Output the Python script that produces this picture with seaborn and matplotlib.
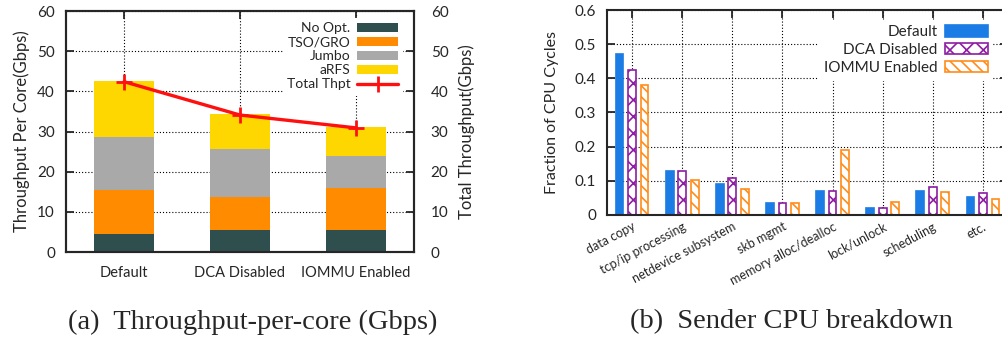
import matplotlib
matplotlib.use("Agg")
import matplotlib.pyplot as plt
from matplotlib.patches import Patch
from matplotlib.lines import Line2D
import numpy as np
import pandas as pd
import seaborn as sns

# ---- Throughput per core, stacked by optimisation ----
configs = ["Default", "DCA Disabled", "IOMMU Enabled"]
no_opt = [4.4, 5.6, 5.6]
tso_gro = [11.1, 8.0, 10.4]
jumbo = [13.1, 12.0, 8.0]
arfs = [13.9, 8.7, 7.1]
total_thpt = [42.4, 34.1, 30.9]

# ---- Sender CPU breakdown ----
categories = ["data copy", "tcp/ip processing", "netdevice subsystem", "skb mgmt",
              "memory alloc/dealloc", "lock/unlock", "scheduling", "etc."]
cpu_default = [0.470, 0.130, 0.090, 0.036, 0.071, 0.021, 0.071, 0.054]
cpu_dca_disabled = [0.424, 0.129, 0.108, 0.034, 0.069, 0.020, 0.082, 0.064]
cpu_iommu_enabled = [0.380, 0.102, 0.076, 0.034, 0.191, 0.039, 0.067, 0.047]

sns.set_theme(style="ticks", context="paper")
plt.rcParams["font.family"] = ["Lato", "DejaVu Sans"]
plt.rcParams["hatch.linewidth"] = 1.2
plt.rcParams["axes.linewidth"] = 1.5

C_NOOPT, C_TSO, C_JUMBO, C_ARFS = "#2f4f4f", "#ff8c00", "#a9a9a9", "#ffd700"
C_DEF, C_DCA, C_IOMMU = "#1c7ce5", "#8e1ea3", "#ff8c1a"
GRID = dict(color="black", linestyle=(0, (1, 1.8)), linewidth=0.8)

fig = plt.figure(figsize=(10.03, 3.43), dpi=100)

# ================= (a) =================
ax = fig.add_axes([66 / 1003, 1 - 252 / 343, 348 / 1003, 241 / 343])
layers = [no_opt, tso_gro, jumbo, arfs]
colors = [C_NOOPT, C_TSO, C_JUMBO, C_ARFS]
cum = np.cumsum(np.array(layers), axis=0)
for heights, col in zip(cum[::-1], colors[::-1]):
    sns.barplot(x=configs, y=heights, color=col, width=0.51, saturation=1,
                linewidth=0, errorbar=None, ax=ax)
ax.set_axisbelow(True)
ax.grid(True, axis="both", **GRID)
ax.set_xlim(-0.5, 2.5)
ax.set_ylim(0, 60)
ax.set_yticks(range(0, 61, 10))
ax.tick_params(axis="y", direction="in", length=6, width=1.3, labelsize=11, pad=8)
ax.tick_params(axis="x", direction="in", length=6, width=1.3, labelsize=10.5,
               top=True, pad=10)
ax.set_ylabel("Throughput Per Core(Gbps)", fontsize=12, labelpad=5)

ax2 = ax.twinx()
sns.pointplot(x=configs, y=total_thpt, color="#ff1010", markers="+",
              markersize=11, linewidth=2.4, errorbar=None, ax=ax2)
ax2.set_ylim(0, 60)
ax2.set_xlim(-0.5, 2.5)
ax2.set_yticks(range(0, 61, 10))
ax2.tick_params(axis="y", direction="in", length=6, width=1.3, labelsize=11, pad=12)
ax2.set_ylabel("Total Throughput(Gbps)", fontsize=12, labelpad=7)
for line in ax2.lines:
    line.set_markeredgewidth(2)

handles_a = [Patch(facecolor=c, edgecolor="none") for c in colors]
handles_a.append(Line2D([], [], color="#ff1010", lw=2.4, marker="+",
                        markersize=11, markeredgewidth=2))
leg = ax2.legend(handles_a, ["No Opt.", "TSO/GRO", "Jumbo", "aRFS", "Total Thpt"],
                 loc="upper right", bbox_to_anchor=(0.985, 1.0), fontsize=10,
                 markerfirst=False, handlelength=2.9, handleheight=0.65,
                 labelspacing=0.15, handletextpad=0.5, borderpad=0.3,
                 frameon=True, fancybox=False, framealpha=1,
                 facecolor="white", edgecolor="white")
for t in leg.get_texts():
    t.set_ha("right")

# ================= (b) =================
bx = fig.add_axes([607 / 1003, 1 - 215 / 343, 401 / 1003, 205 / 343])
df = pd.DataFrame({
    "category": categories * 3,
    "value": cpu_default + cpu_dca_disabled + cpu_iommu_enabled,
    "config": ["Default"] * 8 + ["DCA Disabled"] * 8 + ["IOMMU Enabled"] * 8,
})
sns.barplot(data=df, x="category", y="value", hue="config", width=0.75, gap=0.38,
            saturation=1, errorbar=None, legend=False, ax=bx,
            palette=[C_DEF, C_DCA, C_IOMMU])
styles = [dict(facecolor=C_DEF, edgecolor=C_DEF, hatch=None),
          dict(facecolor="white", edgecolor=C_DCA, hatch="xx"),
          dict(facecolor="white", edgecolor=C_IOMMU, hatch="\\\\\\")]
for cont, st in zip(bx.containers, styles):
    for p in cont:
        p.set_facecolor(st["facecolor"])
        p.set_edgecolor(st["edgecolor"])
        p.set_linewidth(1.2)
        if st["hatch"]:
            p.set_hatch(st["hatch"])
bx.set_axisbelow(True)
bx.grid(True, axis="both", **GRID)
bx.set_xlim(-0.5, 7.5)
bx.set_ylim(0, 0.6)
bx.set_yticks(np.arange(0, 0.61, 0.1))
bx.set_yticklabels(["0", "0.1", "0.2", "0.3", "0.4", "0.5", "0.6"])
bx.tick_params(axis="y", direction="in", length=6, width=1.3, labelsize=11, pad=8,
               right=True)
bx.tick_params(axis="x", direction="in", length=6, width=1.3, top=True, pad=4)
bx.set_xticks(range(len(categories)))
bx.set_xticklabels(categories, rotation=28, ha="right", va="top",
                   rotation_mode="anchor", fontsize=9)
bx.set_xlabel("")
bx.set_ylabel("Fraction of CPU Cycles", fontsize=11.5, labelpad=11)

handles_b = [Patch(facecolor=C_DEF, edgecolor=C_DEF, lw=1.2),
             Patch(facecolor="white", edgecolor=C_DCA, hatch="xx", lw=1.2),
             Patch(facecolor="white", edgecolor=C_IOMMU, hatch="\\\\\\", lw=1.2)]
legb = bx.legend(handles_b, ["Default", "DCA Disabled", "IOMMU Enabled"],
                 loc="upper right", bbox_to_anchor=(0.98, 0.985), fontsize=11,
                 markerfirst=False, handlelength=2.8, handleheight=0.75,
                 labelspacing=0.25, handletextpad=0.5, borderpad=0.3,
                 frameon=True, fancybox=False, framealpha=1,
                 facecolor="white", edgecolor="white")
for t in legb.get_texts():
    t.set_ha("right")

# ---- captions ----
cap = dict(fontsize=20.5, family=["Liberation Serif", "DejaVu Serif"],
           ha="center", va="center")
fig.text(253 / 1003, 1 - 322 / 343, "(a)  Throughput-per-core (Gbps)", **cap)
fig.text(791 / 1003, 1 - 322 / 343, "(b)  Sender CPU breakdown", **cap)

fig.savefig("out.png", dpi=100)
